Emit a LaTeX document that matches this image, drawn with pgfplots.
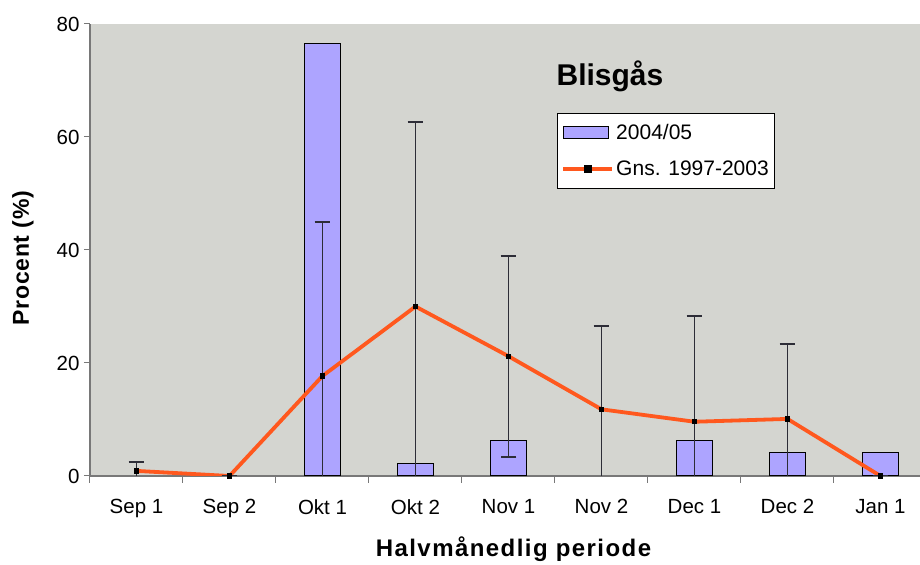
\documentclass[border=0pt]{standalone}
\usepackage{fontspec}
\setmainfont{Liberation Sans}
\usepackage{pgfplots}
\pgfplotsset{compat=1.18}
\definecolor{bg}{RGB}{212,213,208}
\definecolor{barc}{RGB}{173,164,255}
\definecolor{linec}{RGB}{255,88,30}
\definecolor{axgray}{RGB}{120,120,120}
\definecolor{errc}{RGB}{45,45,55}
\begin{document}
\begin{tikzpicture}
\begin{axis}[
  scale only axis, width=830pt, height=452pt,
  xmin=-0.5, xmax=8.425, ymin=0, ymax=80,
  axis x line*=bottom, axis y line*=left,
  axis line style={axgray, line width=1.5pt},
  axis background/.style={fill=bg},
  ytick={0,20,40,60,80},
  xtick={0,...,8},
  xticklabels={Sep 1,Sep 2,Okt 1,Okt 2,Nov 1,Nov 2,Dec 1,Dec 2,Jan 1},
  minor xtick={-0.5,0.5,1.5,2.5,3.5,4.5,5.5,6.5,7.5},
  major x tick style={draw=none},
  tick align=outside,
  major tick length=6pt, minor tick length=7pt,
  tick style={axgray, line width=1pt},
  minor tick style={axgray, line width=1pt},
  /pgf/number format/assume math mode=true,
  ticklabel style={font=\fontsize{20.5}{24}\selectfont},
  yticklabel style={xshift=-1pt},
  xticklabel style={yshift=-14pt},
  xlabel={Halvmånedlig periode},
  ylabel={Procent (\%)},
  every axis x label/.style={at={(rel axis cs:0.5102,0)}, anchor=base, yshift=-81pt,
     font=\fontsize{24}{28}\selectfont\bfseries\addfontfeature{LetterSpace=6}},
  every axis y label/.style={at={(rel axis cs:0,0.482)}, rotate=90, anchor=base, yshift=61pt,
     font=\fontsize{23}{27}\selectfont\bfseries\addfontfeature{LetterSpace=3}},
  legend style={at={(0.5627,0.803)}, anchor=north west, draw=black, line width=0.8pt, fill=white,
     font=\fontsize{21}{25}\selectfont, row sep=16pt, inner xsep=4pt, inner ysep=9pt,
     nodes={inner sep=2pt}},
  legend cell align=left,
]
\addplot[ybar, bar width=36pt, fill=barc, draw=black, line width=1pt,
  legend image code/.code={\draw[fill=barc, draw=black, line width=1pt] (0pt,-6pt) rectangle (45pt,6pt);}]
  coordinates {(2,76.5) (3,2.25) (4,6.3) (6,6.3) (7,4.2) (8,4.2)};
\addlegendentry{2004/05}
\addplot[linec, line width=3.8pt, mark=square*, mark size=2.1pt,
  mark options={black, fill=black, line width=0pt},
  legend image code/.code={\draw[linec, line width=3.8pt] (0pt,0pt) -- (49pt,0pt);
     \fill[black] (22.4pt,-2.1pt) rectangle (26.6pt,2.1pt);},
  error bars/.cd, y dir=both, y explicit,
  error bar style={errc, line width=1.2pt},
  error mark options={errc, rotate=90, mark size=7.8pt, line width=1.8pt}]
  table[x=x, y=y, y error=e] {
x y e
0 0.9 1.6
1 0 0
2 17.7 27.3
3 30.0 32.7
4 21.2 17.8
5 11.8 14.7
6 9.6 18.7
7 10.1 13.3
8 0 0
};
\addlegendentry{Gns. 1997-2003}
\node[font=\fontsize{30}{34}\selectfont\bfseries, anchor=base] at (rel axis cs:0.6265,0.865) {Blisgås};
\end{axis}
\pgfresetboundingbox
\path ([shift={(-90pt,-89pt)}]current axis.south west) rectangle ([shift={(0pt,24pt)}]current axis.north east);
\end{tikzpicture}
\end{document}
